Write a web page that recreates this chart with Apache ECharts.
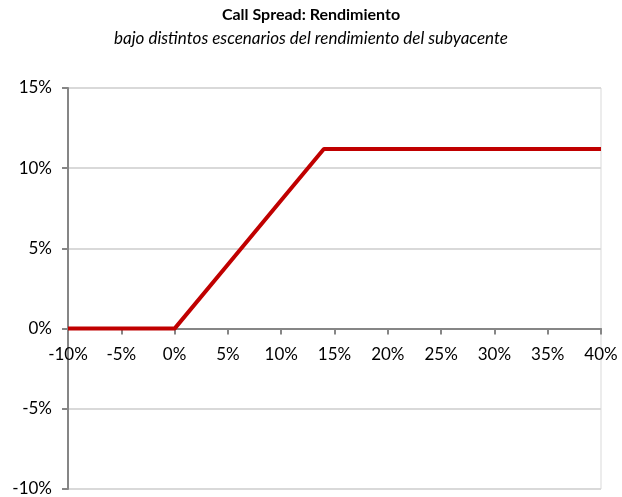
<!DOCTYPE html>
<html>
<head>
<meta charset="utf-8">
<script src="https://cdn.jsdelivr.net/npm/echarts@6/dist/echarts.min.js"></script>
<style>
  html, body { margin: 0; padding: 0; background: #fff; }
  #chart { width: 622px; height: 497px; }
</style>
</head>
<body>
<div id="chart"></div>
<script>
// underlying return (%) and call spread return (%)
const subyacente = [-10, -5, 0, 5, 10, 14, 15, 20, 25, 30, 35, 40];
const rendimiento = [0, 0, 0, 4, 8, 11.2, 11.2, 11.2, 11.2, 11.2, 11.2, 11.2];
const yMin = -10, yMax = 15;

const chart = echarts.init(document.getElementById('chart'));
const font = 'Lato, "Open Sans", sans-serif';
const gridTop = 88, gridBottom = 8, height = 497;
// move the category axis (with its labels) up to the 0% line
const zeroOffset = -(height - gridTop - gridBottom) * (0 - yMin) / (yMax - yMin);

chart.setOption({
  animation: false,
  title: {
    text: 'Call Spread: Rendimiento',
    subtext: 'bajo distintos escenarios del rendimiento del subyacente',
    left: 'center',
    top: 2,
    itemGap: 7,
    textStyle: { fontFamily: font, fontSize: 16, fontWeight: 'bold', color: '#000' },
    subtextStyle: { fontFamily: font, fontSize: 17, fontStyle: 'italic', color: '#000' }
  },
  grid: {
    left: 68, right: 21, top: gridTop, bottom: gridBottom,
    outerBoundsMode: 'none',
    containLabel: false,
    show: true, borderColor: '#d9d9d9', borderWidth: 1
  },
  xAxis: {
    type: 'value',
    min: -10, max: 40, interval: 5,
    offset: zeroOffset,
    axisLine: { onZero: false, lineStyle: { color: '#868686', width: 2 } },
    axisTick: { show: true, length: 6, lineStyle: { color: '#868686', width: 2 } },
    axisLabel: {
      formatter: v => v + '%',
      margin: 17,
      fontFamily: font, fontSize: 17, color: '#000'
    },
    splitLine: { show: false }
  },
  yAxis: {
    type: 'value',
    min: yMin, max: yMax, interval: 5,
    axisLine: { show: true, onZero: false, lineStyle: { color: '#868686', width: 2 } },
    axisTick: { show: true, length: 6, lineStyle: { color: '#868686', width: 2 } },
    axisLabel: {
      formatter: v => v + '%',
      margin: 16,
      fontFamily: font, fontSize: 17, color: '#000'
    },
    splitLine: { show: true, lineStyle: { color: '#d9d9d9', width: 2 } }
  },
  series: [{
    type: 'line',
    data: subyacente.map((x, i) => [x, rendimiento[i]]),
    showSymbol: false,
    lineStyle: { color: '#c00000', width: 4 },
    z: 5
  }]
});
</script>
</body>
</html>
